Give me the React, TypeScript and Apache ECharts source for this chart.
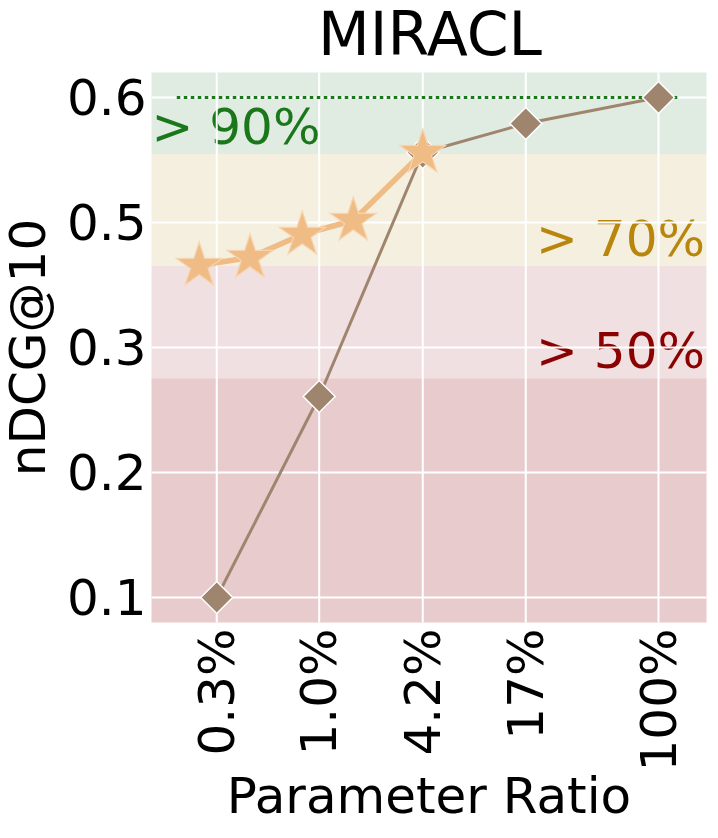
import React, { useEffect, useRef } from 'react';
import * as echarts from 'echarts';

// ---- data ----
const xTickRatios = [0.262, 1.04, 4.19, 16.76, 100]; // parameter ratio (%) at each tick
const xTickLabels = ['0.3%', '1.0%', '4.2%', '17%', '100%'];
const yTickValues = [0.1, 0.225, 0.35, 0.475, 0.6];
const yTickLabels = ['0.1', '0.2', '0.3', '0.5', '0.6'];

const baseRatios = [0.262, 1.04, 4.19, 16.76, 100];
const baseScores = [0.1, 0.301, 0.545, 0.574, 0.6];
const starRatios = [0.207, 0.41, 0.828, 1.645, 4.19];
const starScores = [0.432, 0.44, 0.463, 0.477, 0.545];

const bandNames = ['> 90%', '> 70%', '> 50%', ''];
const bandLower = [0.5435, 0.4318, 0.3193, 0.075];
const bandUpper = [0.625, 0.5435, 0.4318, 0.3193];
const bandColors = ['#e0ece2', '#f5efe0', '#f0e0e1', '#e8cccd'];
const bandTextColors = ['#1a781a', '#b8860b', '#8b0000', '#000'];
const bandAlign = ['left', 'right', 'right', 'right'];

const refScore = 0.6;
const refRatios = [0.153, 133.6];

const X_MIN = -0.963;
const X_MAX = 2.2805;
const Y_MIN = 0.075;
const Y_MAX = 0.625;

const FONT = '"DejaVu Sans", "Liberation Sans", sans-serif';
const FS = 50;

const starPath = (() => {
  const pts: string[] = [];
  for (let k = 0; k < 10; k++) {
    const r = k % 2 === 0 ? 1 : 0.382;
    const a = -Math.PI / 2 + (k * Math.PI) / 5;
    pts.push(`${(r * Math.cos(a) * 100).toFixed(2)} ${(r * Math.sin(a) * 100).toFixed(2)}`);
  }
  return 'path://M' + pts.join(' L') + ' Z';
})();

const lg = (r: number) => Math.log10(r);

export default function App() {
  const ref = useRef<HTMLDivElement>(null);

  useEffect(() => {
    if (!ref.current) return;
    const chart = echarts.init(ref.current, undefined, { renderer: 'svg' });

    const option: any = {
      animation: false,
      backgroundColor: '#ffffff',
      textStyle: { fontFamily: FONT },
      grid: {
        left: 151.5,
        right: 11.5,
        top: 72.5,
        bottom: 215.5,
        containLabel: false,
        outerBoundsMode: 'none',
      },
      xAxis: {
        type: 'value',
        min: X_MIN,
        max: X_MAX,
        axisLine: { show: false },
        axisTick: { show: false },
        splitLine: { show: false },
        axisLabel: {
          customValues: xTickRatios.map(lg),
          formatter: (v: number) => {
            const i = xTickRatios.findIndex((r) => Math.abs(lg(r) - v) < 1e-6);
            return i >= 0 ? xTickLabels[i] : '';
          },
          rotate: 90,
          margin: 6,
          padding: [0, 0, 8, 0],
          fontSize: FS,
          fontFamily: FONT,
          color: '#000',
        },
      },
      yAxis: {
        type: 'value',
        min: Y_MIN,
        max: Y_MAX,
        axisLine: { show: false },
        axisTick: { show: false },
        splitLine: { show: false },
        axisLabel: {
          customValues: yTickValues,
          formatter: (v: number) => {
            const i = yTickValues.findIndex((t) => Math.abs(t - v) < 1e-9);
            return i >= 0 ? yTickLabels[i] : '';
          },
          margin: 5,
          fontSize: FS,
          fontFamily: FONT,
          color: '#000',
        },
      },
      graphic: [
        {
          type: 'text',
          x: 430,
          y: 34,
          style: {
            text: 'MIRACL',
            fontSize: 60,
            fontFamily: FONT,
            fill: '#000',
            align: 'center',
            verticalAlign: 'middle',
            textAlign: 'center',
            textVerticalAlign: 'middle',
          },
        },
        {
          type: 'text',
          x: 28,
          y: 347.5,
          rotation: Math.PI / 2,
          style: {
            text: 'nDCG@10',
            fontSize: FS,
            fontFamily: FONT,
            fill: '#000',
            align: 'center',
            verticalAlign: 'middle',
            textAlign: 'center',
            textVerticalAlign: 'middle',
          },
        },
        {
          type: 'text',
          x: 429,
          y: 796,
          style: {
            text: 'Parameter Ratio',
            fontSize: FS,
            fontFamily: FONT,
            fill: '#000',
            align: 'center',
            verticalAlign: 'middle',
            textAlign: 'center',
            textVerticalAlign: 'middle',
          },
        },
      ],
      series: [
        {
          name: 'bands',
          type: 'custom',
          z: 0,
          silent: true,
          data: bandLower.map((lo, i) => [X_MIN, lo, bandUpper[i]]),
          encode: { x: 0, y: 1 },
          renderItem: (params: any, api: any) => {
            const i = params.dataIndex;
            const tl = api.coord([X_MIN, bandUpper[i]]);
            const br = api.coord([X_MAX, bandLower[i]]);
            const children: any[] = [
              {
                type: 'rect',
                shape: { x: tl[0], y: tl[1], width: br[0] - tl[0], height: br[1] - tl[1] },
                style: { fill: bandColors[i] },
              },
            ];
            if (bandNames[i]) {
              const left = bandAlign[i] === 'left';
              children.push({
                type: 'text',
                style: {
                  text: bandNames[i],
                  x: left ? tl[0] : br[0] - 1.5,
                  y: br[1] - 27,
                  fill: bandTextColors[i],
                  fontSize: FS,
                  fontFamily: FONT,
                  align: left ? 'left' : 'right',
                  verticalAlign: 'middle',
                },
              });
            }
            return { type: 'group', children };
          },
        },
        {
          name: 'gridlines',
          type: 'custom',
          z: 1,
          silent: true,
          data: [[X_MIN, Y_MIN]],
          encode: { x: 0, y: 1 },
          renderItem: (_params: any, api: any) => {
            const children: any[] = [];
            xTickRatios.forEach((r) => {
              const a = api.coord([lg(r), Y_MAX]);
              const b = api.coord([lg(r), Y_MIN]);
              children.push({
                type: 'line',
                shape: { x1: a[0], y1: a[1], x2: b[0], y2: b[1] },
                style: { stroke: '#ffffff', lineWidth: 2 },
              });
            });
            yTickValues.forEach((t) => {
              const a = api.coord([X_MIN, t]);
              const b = api.coord([X_MAX, t]);
              children.push({
                type: 'line',
                shape: { x1: a[0], y1: a[1], x2: b[0], y2: b[1] },
                style: { stroke: '#ffffff', lineWidth: 2 },
              });
            });
            return { type: 'group', children };
          },
        },
        {
          name: 'reference',
          type: 'line',
          z: 2,
          silent: true,
          symbol: 'none',
          data: refRatios.map((r) => [lg(r), refScore]),
          lineStyle: { color: '#1a781a', width: 3, type: [3.5, 3.5] },
        },
        {
          name: 'base',
          type: 'line',
          z: 3,
          data: baseRatios.map((r, i) => [lg(r), baseScores[i]]),
          symbol: 'diamond',
          symbolSize: 32,
          itemStyle: { color: '#a0856e', borderColor: '#ffffff', borderWidth: 1.5 },
          lineStyle: { color: '#a0856e', width: 3 },
        },
        {
          name: 'stars',
          type: 'line',
          z: 4,
          data: starRatios.map((r, i) => [lg(r), starScores[i]]),
          symbol: starPath,
          symbolSize: [46, 43],
          symbolOffset: [0, -2],
          itemStyle: { color: '#f0bc85', borderColor: '#f7d5b0', borderWidth: 1.2 },
          lineStyle: { color: '#f0bc85', width: 5.5 },
        },
      ],
    };

    chart.setOption(option);
    return () => chart.dispose();
  }, []);

  return (
    <div
      ref={ref}
      style={{ position: 'fixed', left: 0, top: 0, width: 718, height: 838, background: '#fff' }}
    />
  );
}
